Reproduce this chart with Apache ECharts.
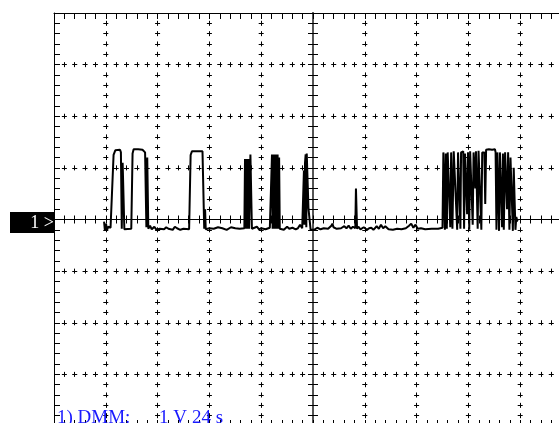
<!DOCTYPE html>
<html><head><meta charset="utf-8">
<script src="https://cdn.jsdelivr.net/npm/echarts@6/dist/echarts.min.js"></script>
<style>html,body{margin:0;padding:0;background:#fff}#c{width:559px;height:423px}</style>
</head><body><div id="c"></div>
<script>
// Time (s) / voltage (V) samples of the DMM trace, channel 1 ground at 0 V
const tracePoints = [
[23.2,-0.04],[23.6,-0.22],[24.1,-0.08],[24.6,-0.2],[25.2,-0.14],[26.2,-0.16],[27.0,-0.15],[27.6,1.25],[28.4,1.34],[30.6,1.35],[31.0,1.30],[31.4,-0.18],[31.8,1.1],[32.6,-0.19],[33.5,-0.18],[35.8,-0.18],[36.4,1.28],[36.9,1.36],[39.0,1.36],[41.0,1.35],[42.2,1.30],[42.8,-0.15],[43.2,1.2],[43.7,-0.18],[44.5,-0.12],[45.3,-0.19],[46.5,-0.14],[47.5,-0.20],[49.0,-0.18],[51.0,-0.19],[52.0,-0.15],[53.0,-0.18],[55.0,-0.20],[56.0,-0.14],[57.0,-0.17],[58.5,-0.20],[60.0,-0.18],[62.6,-0.19],[63.3,1.25],[63.9,1.32],[68.8,1.32],[69.3,1.30],[69.6,-0.18],[70.0,0.20],[70.3,-0.19],[71.0,-0.22],[72.0,-0.17],[74.0,-0.18],[76.0,-0.15],[78.0,-0.17],[80.0,-0.20],[82.0,-0.15],[84.0,-0.17],[86.0,-0.18],[88.2,-0.17],
[88.5,1.17],[88.8,-0.18],[89.4,1.17],[89.7,-0.18],[90.1,1.17],[90.4,-0.18],[91.0,1.26],[91.4,1.26],[91.7,-0.18],[92.5,-0.20],[94.0,-0.14],[95.0,-0.19],[96.0,-0.17],[98.0,-0.19],[100.0,-0.16],[100.8,-0.17],
[101.0,1.26],[101.3,-0.18],[101.6,1.26],[102.0,-0.18],[102.3,1.26],[102.7,-0.18],[103.0,1.26],[103.3,-0.18],[103.6,1.26],[104.0,-0.18],[104.3,1.20],[104.6,-0.18],[105.5,-0.15],[106.5,-0.20],[108.0,-0.14],[109.0,-0.18],[110.5,-0.16],[112.0,-0.19],[113.0,-0.17],[114.0,-0.10],[115.0,-0.17],[115.5,-0.15],[115.8,0.95],[116.0,-0.1],[116.3,1.10],[116.6,1.26],[116.9,-0.15],[117.1,1.28],[117.6,1.26],[117.9,0.21],[118.6,0.21],[118.9,-0.20],[119.5,-0.18],
[120.5,-0.20],[122.0,-0.16],[123.5,-0.19],[125.0,-0.17],[127.0,-0.18],[128.5,-0.12],[129.0,-0.08],[129.5,-0.15],[131.0,-0.18],[133.0,-0.17],[134.5,-0.13],[135.5,-0.17],[136.5,-0.12],[137.5,-0.18],[138.5,-0.14],[139.6,-0.17],[139.9,0.60],[140.2,0.60],[140.4,-0.18],[141.0,-0.14],[142.0,-0.19],[143.5,-0.15],[145.0,-0.20],[146.0,-0.17],[147.0,-0.16],[148.0,-0.20],[149.5,-0.13],[150.5,-0.18],[151.5,-0.10],[152.5,-0.17],[153.5,-0.13],[155.0,-0.19],[157.0,-0.20],[159.0,-0.18],[161.0,-0.19],[163.0,-0.17],[164.5,-0.12],[165.5,-0.08],[166.5,-0.16],[167.5,-0.10],[168.5,-0.18],[170.0,-0.17],[172.0,-0.19],[175.0,-0.18],[178.0,-0.18],[180.0,-0.16],
[180.2,-0.18],[180.4,1.3],[180.9,1.3],[181.1,-0.2],[181.5,1.28],[182.0,-0.18],[182.4,1.3],[183.3,1.32],[183.6,-0.15],[184.0,1.3],[184.6,-0.18],[185.2,1.32],[185.6,1.3],[186.8,-0.2],[187.2,1.3],[188.3,-0.18],[188.6,1.3],[189.6,1.32],[190.0,-0.18],[190.4,1.28],[191.4,0.1],[191.8,1.3],[192.4,-0.2],[192.8,1.32],[193.6,1.32],[194.0,-0.1],[194.4,1.3],[195.2,0.6],[195.5,1.32],[196.3,-0.18],[196.7,1.33],[197.6,1.3],[198.0,-0.2],[198.4,1.3],[199.4,1.3],[199.8,0.3],[200.2,1.35],[201.5,1.36],[203.0,1.35],[204.3,1.36],[204.6,1.3],[205.0,-0.2],[205.4,1.3],[206.2,-0.22],[206.6,1.3],[207.2,1.3],[207.6,-0.15],[208.0,1.28],[208.4,-0.2],[209.0,1.3],[209.9,0.2],[210.4,1.3],[211.0,-0.2],[211.5,1.2],[212.6,-0.22],[213.0,1.0],[213.8,-0.2],[214.2,0.05],[214.6,-0.02],[215.0,-0.03]
];
const channelMarker = '1 >';
const footerParts = ['1) DMM:', '1 V', '24 s'];
const timeRange = [0, 240];   // 24 s / div, 10 div
const centerTimeRange = [-120, 120];
const voltRange = [-4, 4];    // 1 V / div, 8 div

const GL = 54, GT = 13, W = 518, H = 413;
const minorX = W / 50, majorX = W / 10, minorY = H / 40, majorY = H / 8;
const blk = '#000';

const noLabel = { show: false };
function dash(period) { return { color: blk, width: 1, type: [5, period - 5], dashOffset: 2.5 }; }

const chart = echarts.init(document.getElementById('c'), null, { renderer: 'canvas' });
chart.setOption({
  animation: false,
  backgroundColor: '#fff',
  grid: [
    { left: GL, top: GT, width: W, height: H, containLabel: false, outerBoundsMode: 'none' },
    { left: GL, top: GT, width: W, height: H, containLabel: false, outerBoundsMode: 'none' }
  ],
  xAxis: [
    { gridIndex: 0, type: 'value', position: 'top', min: timeRange[0], max: timeRange[1], interval: 24,
      axisLine: { show: true, onZero: false, lineStyle: { color: blk, width: 1 } },
      axisTick: { show: true, inside: true, length: 6, lineStyle: { color: blk } },
      minorTick: { show: true, splitNumber: 5, length: 6, lineStyle: { color: blk } },
      axisLabel: noLabel,
      splitLine: { show: true, lineStyle: dash(minorY) },
      minorSplitLine: { show: true, lineStyle: dash(majorY) } },
    { gridIndex: 0, type: 'value', position: 'bottom', min: timeRange[0], max: timeRange[1], interval: 24,
      axisLine: { show: true, onZero: false, lineStyle: { color: blk, width: 1 } },
      axisTick: { show: true, inside: true, length: 6, lineStyle: { color: blk } },
      minorTick: { show: true, splitNumber: 5, length: 6, lineStyle: { color: blk } },
      axisLabel: noLabel, splitLine: { show: false } },
    { gridIndex: 1, type: 'value', position: 'bottom', min: centerTimeRange[0], max: centerTimeRange[1], interval: 24,
      axisLine: { show: true, onZero: true, onZeroAxisIndex: 1, lineStyle: { color: blk, width: 1 } },
      axisTick: { show: true, inside: true, length: 4, lineStyle: { color: blk } },
      minorTick: { show: true, splitNumber: 5, length: 4, lineStyle: { color: blk } },
      axisLabel: noLabel, splitLine: { show: false } },
    { gridIndex: 1, type: 'value', position: 'top', min: centerTimeRange[0], max: centerTimeRange[1], interval: 24,
      axisLine: { show: true, onZero: true, onZeroAxisIndex: 2, lineStyle: { color: blk, width: 1 } },
      axisTick: { show: true, inside: true, length: 4, lineStyle: { color: blk } },
      minorTick: { show: true, splitNumber: 5, length: 4, lineStyle: { color: blk } },
      axisLabel: noLabel, splitLine: { show: false } }
  ],
  yAxis: [
    { gridIndex: 0, type: 'value', position: 'left', min: voltRange[0], max: voltRange[1], interval: 1,
      axisLine: { show: true, onZero: false, lineStyle: { color: blk, width: 1 } },
      axisTick: { show: true, inside: true, length: 6, lineStyle: { color: blk } },
      minorTick: { show: true, splitNumber: 5, length: 6, lineStyle: { color: blk } },
      axisLabel: noLabel,
      splitLine: { show: true, lineStyle: dash(minorX) },
      minorSplitLine: { show: true, lineStyle: dash(majorX) } },
    { gridIndex: 1, type: 'value', position: 'left', min: voltRange[0], max: voltRange[1], interval: 1,
      axisLine: { show: true, onZero: true, onZeroAxisIndex: 2, lineStyle: { color: '#555', width: 2 } },
      axisTick: { show: true, inside: true, length: 5, lineStyle: { color: blk } },
      minorTick: { show: true, splitNumber: 5, length: 5, lineStyle: { color: blk } },
      axisLabel: noLabel, splitLine: { show: false } },
    { gridIndex: 1, type: 'value', position: 'right', min: voltRange[0], max: voltRange[1], interval: 1,
      axisLine: { show: true, onZero: true, onZeroAxisIndex: 3, lineStyle: { color: '#555', width: 2 } },
      axisTick: { show: true, inside: true, length: 5, lineStyle: { color: blk } },
      minorTick: { show: true, splitNumber: 5, length: 5, lineStyle: { color: blk } },
      axisLabel: noLabel, splitLine: { show: false } }
  ],
  series: [{
    type: 'line', xAxisIndex: 0, yAxisIndex: 0, data: tracePoints,
    showSymbol: false, symbol: 'none', clip: true, z: 10,
    lineStyle: { color: blk, width: 2 }
  }],
  graphic: [
    { type: 'rect', left: 10, top: 212, z: 20, shape: { width: 44, height: 21 }, style: { fill: blk } },
    { type: 'text', x: 54, y: 223, z: 21, style: { text: channelMarker, fill: '#fff', font: '18px "Liberation Serif"', align: 'right', verticalAlign: 'middle' } },
    { type: 'text', x: 57, y: 428, z: 21, style: { text: footerParts[0], fill: '#1a1aff', font: '19px "Liberation Serif"', align: 'left', verticalAlign: 'bottom' } },
    { type: 'text', x: 159, y: 428, z: 21, style: { text: footerParts[1], fill: '#1a1aff', font: '19px "Liberation Serif"', align: 'left', verticalAlign: 'bottom' } },
    { type: 'text', x: 192, y: 428, z: 21, style: { text: footerParts[2], fill: '#1a1aff', font: '19px "Liberation Serif"', align: 'left', verticalAlign: 'bottom' } }
  ]
});
</script></body></html>
